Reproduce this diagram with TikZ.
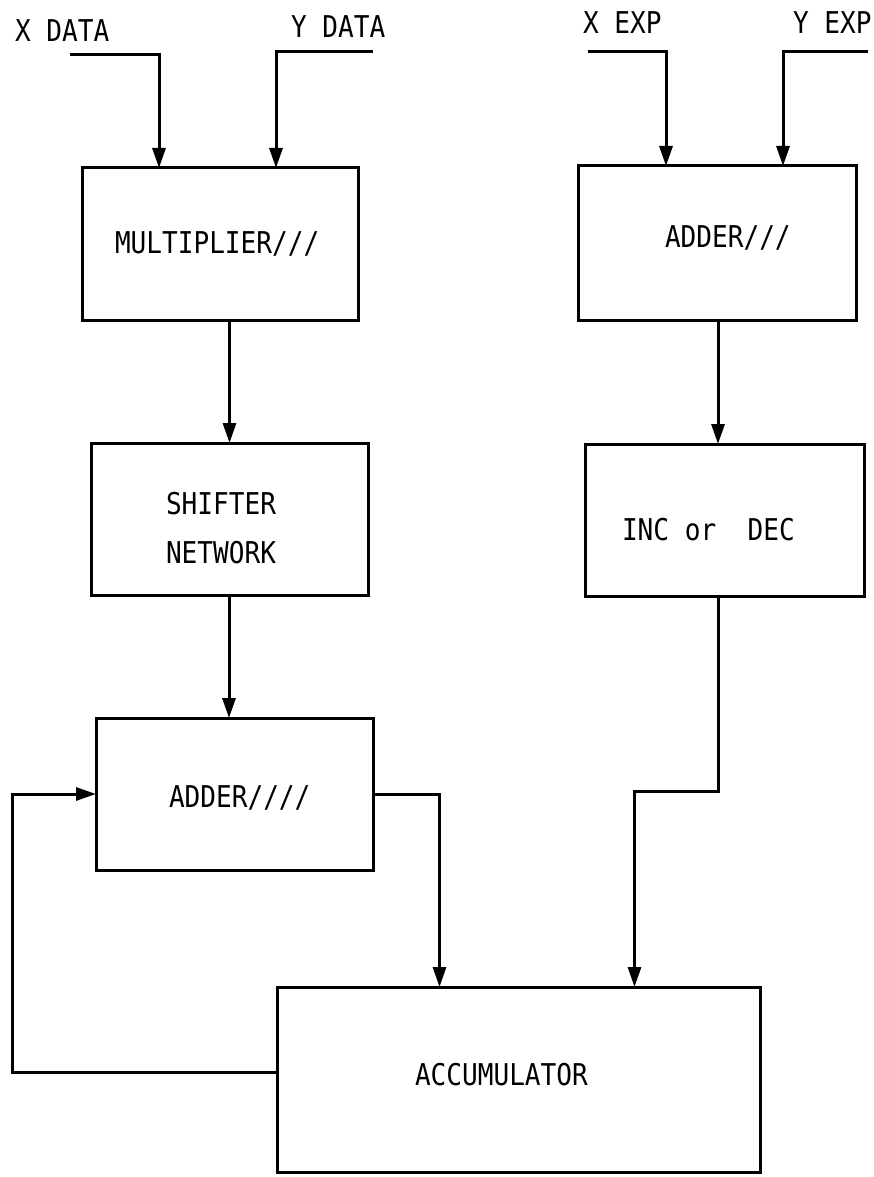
\documentclass[tikz,border=0pt]{standalone}
\usepackage{fontspec}
\usetikzlibrary{arrows.meta}
\newfontfamily\blocklabelfont[FakeStretch=0.87]{DejaVu Sans Mono}
\begin{document}
\begin{tikzpicture}[x=1pt,y=-1pt,
  every node/.style={inner sep=0pt,outer sep=0pt},
  blk/.style={draw,line width=3pt,rectangle},
  txt/.style={anchor=base west,font=\blocklabelfont\fontsize{30}{32}\selectfont},
  wire/.style={line width=3pt},
  arr/.style={wire,-{Triangle[length=20pt,width=13pt]}}]
\path[use as bounding box,fill=white] (0,0) rectangle (873,1177);

% blocks
\node[blk,minimum width=276pt,minimum height=152pt] (mult)  at (220,244) {};
\node[blk,minimum width=277pt,minimum height=152pt] (shift) at (229.5,519) {};
\node[blk,minimum width=277pt,minimum height=152pt] (add1)  at (234.5,794) {};
\node[blk,minimum width=483pt,minimum height=185pt] (acc)   at (518.5,1079.5) {};
\node[blk,minimum width=278pt,minimum height=154pt] (add2)  at (717,243) {};
\node[blk,minimum width=279pt,minimum height=152pt] (inc)   at (724.5,520) {};

% block texts
\node[txt] (tmult) at (115,253)  {MULTIPLIER///};
\node[txt] (tsh1)  at (166,514)  {SHIFTER};
\node[txt] (tsh2)  at (166,563)  {NETWORK};
\node[txt] (tadd1) at (169,807)  {ADDER////};
\node[txt] (tacc)  at (415,1085) {ACCUMULATOR};
\node[txt] (tadd2) at (665,247)  {ADDER///};
\node[txt] (tinc)  at (622,540)  {INC or\ \ DEC};

% input labels
\node[txt] (lxd) at (15,42)  {X DATA};
\node[txt] (lyd) at (291,38) {Y DATA};
\node[txt] (lxe) at (583,34) {X EXP};
\node[txt] (lye) at (793,34) {Y EXP};

% input wire ends
\coordinate (xd) at (70,55);
\coordinate (yd) at (373,52);
\coordinate (xe) at (588,52);
\coordinate (ye) at (868,52);

% inputs
\draw[arr] (xd) -| ([xshift=-61pt]mult.north);
\draw[arr] (yd) -| ([xshift=56pt]mult.north);
\draw[arr] (xe) -| ([xshift=-51pt]add2.north);
\draw[arr] (ye) -| ([xshift=66pt]add2.north);

% mantissa path
\draw[arr] (mult.south -| shift.north) -- (shift.north);
\draw[arr] ([xshift=-0.5pt]shift.south) -- ([xshift=-0.5pt]shift.south |- add1.north);
\draw[arr] (add1.east) -| ([xshift=-79pt]acc.north);
\draw[arr] ([yshift=7.5pt]acc.west) -- ++(-265,0) |- (add1.west);

% exponent path
\draw[arr] ([xshift=1pt]add2.south) -- ([xshift=1pt]add2.south |- inc.north);
\draw[arr] ([xshift=-6pt]inc.south) -- ++(0,195) -| ([xshift=116pt]acc.north);
\end{tikzpicture}
\end{document}
